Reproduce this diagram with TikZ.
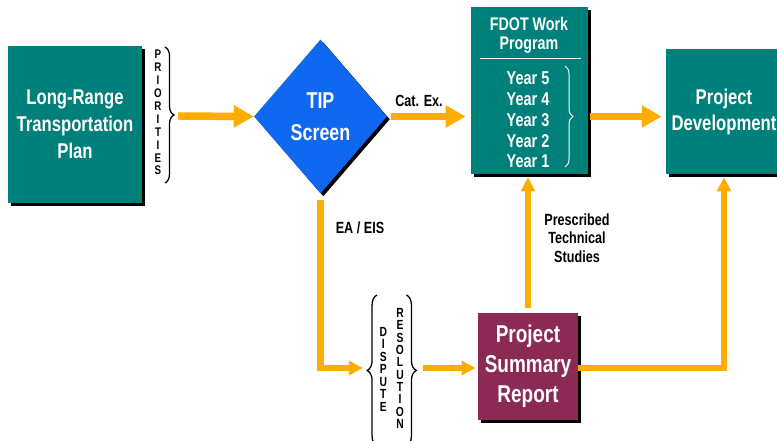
\documentclass[tikz,border=0pt]{standalone}
\usepackage{fontspec}
\setmainfont{Liberation Sans}[FakeStretch=0.78]
\usetikzlibrary{arrows.meta,calc,shapes.geometric,shadows,decorations.pathreplacing}
\definecolor{plangreen}{RGB}{0,128,122}
\definecolor{tipblue}{RGB}{17,104,240}
\definecolor{psrred}{RGB}{139,43,85}
\definecolor{flow}{RGB}{255,173,0}

\begin{document}
\begin{tikzpicture}[x=0.025cm,y=-0.025cm,
 font=\bfseries,
 shd/.style={general shadow={fill=black,shadow xshift=0.07cm,shadow yshift=-0.07cm}},
 box/.style={shd,fill=plangreen,text=white,align=center,inner sep=0pt},
 wtxt/.style={text=white,align=center,inner sep=0pt},
 tipbox/.style={shd,diamond,fill=tipblue,text=white,align=center,inner sep=0pt},
 psrbox/.style={shd,fill=psrred,text=white,align=center,inner sep=0pt},
 lbl/.style={align=center,inner sep=0pt,font=\bfseries\fontsize{11.5}{13.2}\selectfont},
 vlet/.style={align=center,inner sep=0pt,font=\bfseries\fontsize{8.9}{9.2}\selectfont},
 bigarr/.style={-{Triangle[length=5mm,width=5.3mm]},line width=5.3pt,flow},
 smallarr/.style={-{Triangle[length=3.5mm,width=3.4mm]},line width=4.6pt,flow},
 brc/.style={decorate,decoration={brace,amplitude=#1},line width=0.9pt}]
\useasboundingbox (0,0) rectangle (777,441);
% boxes
\node[box,minimum width=3.35cm,minimum height=3.925cm,font=\bfseries\fontsize{15.2}{19.2}\selectfont] (lrtp) at (75,124.5) {Long-Range\\Transportation\\Plan};
\node[tipbox,minimum width=3.325cm,minimum height=3.85cm,font=\bfseries\fontsize{16.3}{22.8}\selectfont] (tip) at (320.5,116.5) {TIP\\Screen};
\node[box,minimum width=2.925cm,minimum height=4.175cm] (fdot) at (529.5,90.5) {};
\node[wtxt,font=\bfseries\fontsize{13}{13.5}\selectfont] (fdot-h) at (529,35) {FDOT Work\\Program};
\draw[white,line width=0.6pt] (480,58) -- (581,58);
\node[wtxt,font=\bfseries\fontsize{13.2}{14.8}\selectfont] (years) at (528,120) {Year 5\\Year 4\\Year 3\\Year 2\\Year 1};
\draw[brc=5.7pt,white,line width=0.7pt] (565,66) -- (565,167);
\node[box,minimum width=2.9cm,minimum height=3.125cm,font=\bfseries\fontsize{15.2}{18.5}\selectfont] (pd) at (724,111.5) {Project\\Development};
\node[psrbox,minimum width=2.5cm,minimum height=2.675cm,font=\bfseries\fontsize{17.3}{21.3}\selectfont] (psr) at (528,366.5) {Project\\Summary\\Report};
% side texts
\node[vlet] (prio) at (158,112.5) {P\\R\\I\\O\\R\\I\\T\\I\\E\\S};
\draw[brc=6.4pt] (165,47) -- (165,183);
\node[vlet,font=\bfseries\fontsize{9.4}{8.9}\selectfont] (disp-a) at (383.3,369.3) {D\\I\\S\\P\\U\\T\\E};
\node[vlet,font=\bfseries\fontsize{9.4}{8.8}\selectfont] (disp-b) at (400,368.5) {R\\E\\S\\O\\L\\U\\T\\I\\O\\N};
\draw[brc=7pt] (377,446) -- (377,295);
\draw[brc=7pt] (406.5,295) -- (406.5,446);
\coordinate (prio-out) at (178,116);
\coordinate (disp-in) at (363,368);
\coordinate (disp-out) at (423,368);
% flow
\draw[bigarr] (prio-out) -- (tip.west);
\draw[bigarr,shorten <=2.8pt,shorten >=3.6pt] (tip.east) -- (fdot.west |- tip.east);
\node[lbl] (catex) at (419,101) {Cat. Ex.};
\draw[bigarr,shorten <=1.4pt,shorten >=2.8pt] (fdot.east |- tip.east) -- (pd.west |- tip.east);
\draw[smallarr,line join=miter] ($(tip.south)+(0,6)$) |- (disp-in);
\node[lbl] (eaeis) at (360,228) {EA / EIS};
\draw[smallarr,shorten >=1.4pt] (disp-out) -- (psr.west |- disp-out);
\draw[smallarr,shorten <=3.6pt,shorten >=2.1pt] (psr.north) -- (psr.north |- fdot.south);
\node[lbl] (pts) at (577,238) {Prescribed\\Technical\\Studies};
\draw[smallarr,line join=miter,shorten >=2.1pt] (psr.east |- disp-out) -| (pd.south);
\end{tikzpicture}
\end{document}
